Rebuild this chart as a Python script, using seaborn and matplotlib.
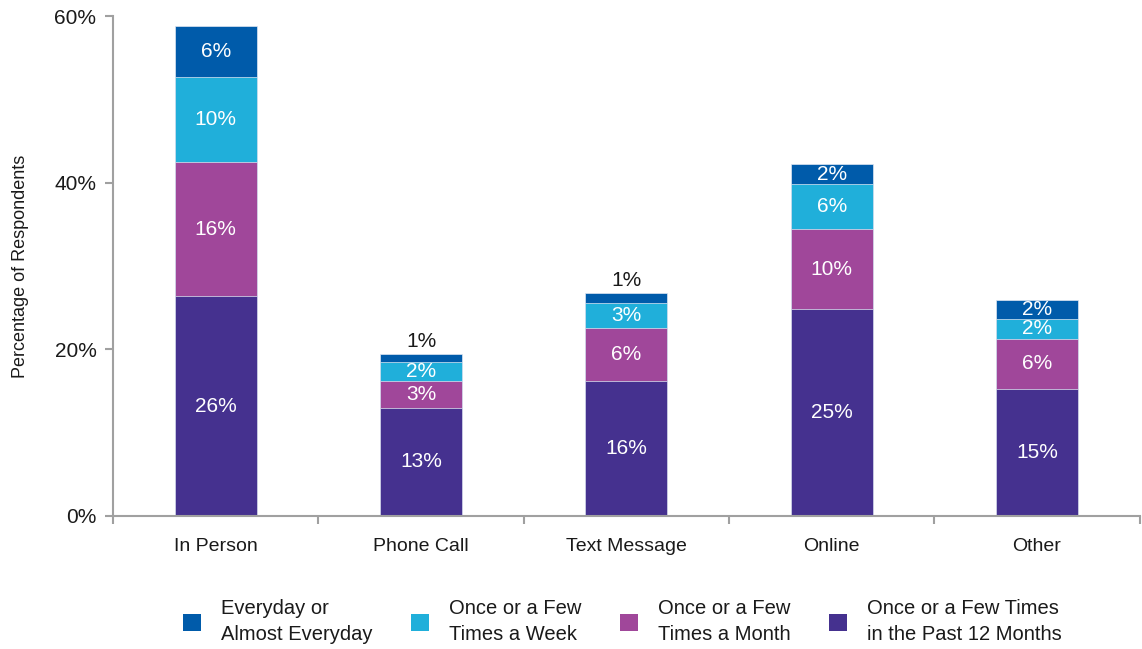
import matplotlib
matplotlib.use("Agg")
import matplotlib.pyplot as plt
import seaborn as sns
import numpy as np
import pandas as pd
from matplotlib.patches import Patch

categories = ["In Person", "Phone Call", "Text Message", "Online", "Other"]
series_names = ["Once or a Few Times\nin the Past 12 Months",
                "Once or a Few\nTimes a Month",
                "Once or a Few\nTimes a Week",
                "Everyday or\nAlmost Everyday"]
past12 = [26.4, 13.0, 16.2, 24.8, 15.2]
month = [16.1, 3.2, 6.4, 9.6, 6.1]
week = [10.2, 2.3, 3.0, 5.4, 2.3]
everyday = [6.1, 1.0, 1.2, 2.4, 2.3]
past12_lbl = ["26%", "13%", "16%", "25%", "15%"]
month_lbl = ["16%", "3%", "6%", "10%", "6%"]
week_lbl = ["10%", "2%", "3%", "6%", "2%"]
everyday_lbl = ["6%", "1%", "1%", "2%", "2%"]
yticks = [0, 20, 40, 60]
ytick_labels = ["0%", "20%", "40%", "60%"]

colors = ["#45318F", "#A0479A", "#20AFDA", "#005BAA"]

sns.set_theme(style="white")
plt.rcParams['font.family'] = ['Liberation Sans', 'DejaVu Sans']

fig = plt.figure(figsize=(11.42, 6.49), dpi=100)
ax = fig.add_axes([0.099, 0.205, 0.899, 0.770])

layers = [past12, month, week, everyday]
labels = [past12_lbl, month_lbl, week_lbl, everyday_lbl]
cum = np.cumsum(np.array(layers), axis=0)

# draw from top (full stack) down so lower layers overlay
for i in range(3, -1, -1):
    df = pd.DataFrame({"cat": categories, "val": cum[i]})
    sns.barplot(data=df, x="cat", y="val", color=colors[i], width=0.40,
                ax=ax, saturation=1, edgecolor="#dfe6f2", linewidth=0.5)

for i in range(4):
    for j in range(len(categories)):
        bottom = cum[i - 1][j] if i > 0 else 0
        top = cum[i][j]
        if i == 3 and layers[i][j] < 1.5:
            ax.text(j, top + 0.35, labels[i][j], ha="center", va="bottom",
                    color="#1a1a1a", fontsize=15)
        else:
            ax.text(j, (bottom + top) / 2, labels[i][j], ha="center", va="center",
                    color="white", fontsize=15)

ax.set_xlim(-0.5, len(categories) - 0.5)
ax.set_ylim(0, 60)
ax.set_yticks(yticks)
ax.set_yticklabels(ytick_labels, fontsize=15, color="#1a1a1a")
ax.set_xticks(np.arange(len(categories)))
ax.set_xticklabels(categories, fontsize=14, color="#1a1a1a")
ax.set_xticks(np.arange(-0.5, len(categories)), minor=True)
ax.tick_params(axis="x", which="major", length=0, pad=16)
ax.tick_params(axis="x", which="minor", length=6, width=1.5, color="#a0a0a0", direction="out", bottom=True)
ax.tick_params(axis="y", length=6, width=1.5, color="#a0a0a0", direction="out", left=True, pad=6)
ax.set_xlabel("")
ax.set_ylabel("Percentage of Respondents", fontsize=13, color="#1a1a1a", labelpad=18)
for s in ["top", "right"]:
    ax.spines[s].set_visible(False)
for s in ["left", "bottom"]:
    ax.spines[s].set_color("#a0a0a0")
    ax.spines[s].set_linewidth(1.5)

handles = [Patch(facecolor=colors[i], edgecolor="none") for i in range(3, -1, -1)]
leg_labels = [series_names[i] for i in range(3, -1, -1)]
leg = fig.legend(handles, leg_labels, loc="center", bbox_to_anchor=(0.545, 0.042), ncol=4,
                 frameon=False, fontsize=14.5, handlelength=0.9, handleheight=0.9,
                 columnspacing=1.9, handletextpad=1.0, borderaxespad=0)
for t in leg.get_texts():
    t.set_linespacing(1.5)
    t.set_color("#1a1a1a")

fig.savefig("out.png", dpi=100)
